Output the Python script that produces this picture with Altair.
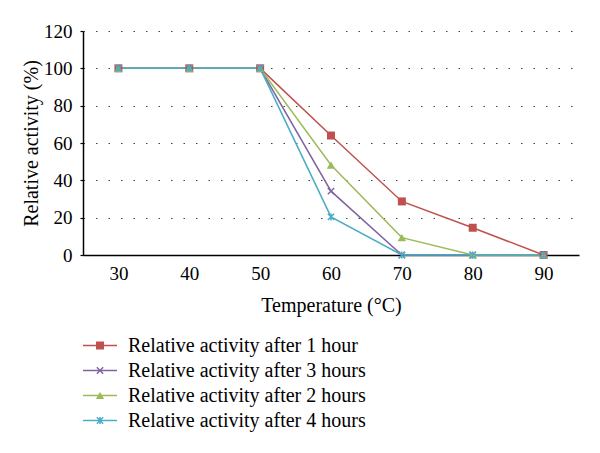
import altair as alt
import pandas as pd

temps = [30, 40, 50, 60, 70, 80, 90]
series_names = [
    "Relative activity after 1 hour",
    "Relative activity after 3 hours",
    "Relative activity after 2 hours",
    "Relative activity after 4 hours",
]
act_1h = [100, 100, 100, 64, 28.7, 14.6, 0]
act_3h = [100, 100, 100, 34.2, 0, 0, 0]
act_2h = [100, 100, 100, 48.2, 9.3, 0, 0]
act_4h = [100, 100, 100, 20.4, 0, 0, 0]
y_ticks = [0, 20, 40, 60, 80, 100, 120]

colors = ["#C0504D", "#8064A2", "#9BBB59", "#4BACC6"]
X_PATH = "M-1,-1L1,1M-1,1L1,-1"
STAR_PATH = "M-1,-1L1,1M-1,1L1,-1M0,-1.1L0,1.1"
marker_shapes = ["square", X_PATH, "triangle-up", STAR_PATH]
marker_filled = [True, False, True, False]
marker_sizes = [64, 40, 70, 40]

FONT = "Liberation Serif"

rows = []
for name, vals in zip(series_names, [act_1h, act_3h, act_2h, act_4h]):
    for t, v in zip(temps, vals):
        rows.append({"Temperature": str(t), "Activity": v, "Series": name})
df = pd.DataFrame(rows)

color_scale = alt.Scale(domain=series_names, range=colors)
color_enc = alt.Color("Series:N", scale=color_scale, legend=None)

x_enc = alt.X(
    "Temperature:O",
    sort=[str(t) for t in temps],
    scale=alt.Scale(type="point", padding=0.5),
    axis=alt.Axis(
        title="Temperature (°C)", labelAngle=0, ticks=False, grid=False,
        domainColor="black", domainWidth=1.5, labelPadding=9, titlePadding=12,
        labelFontSize=19, titleFontSize=20, titleFontWeight="normal",
        labelColor="black", titleColor="black", labelFont=FONT, titleFont=FONT,
    ),
)
y_enc = alt.Y(
    "Activity:Q",
    scale=alt.Scale(domain=[0, 120], nice=False),
    axis=alt.Axis(
        title="Relative activity (%)", values=y_ticks, tickSize=3, tickColor="black",
        tickWidth=1.2, domainColor="black", domainWidth=1.5, grid=True,
        gridDash=[1.5, 11], gridColor="#444444", gridWidth=1.2,
        labelPadding=8, titlePadding=2, labelFontSize=19, titleFontSize=20,
        titleFontWeight="normal", labelColor="black", titleColor="black",
        labelFont=FONT, titleFont=FONT,
    ),
)

lines = alt.Chart(df).mark_line(strokeWidth=1.5).encode(x=x_enc, y=y_enc, color=color_enc)

layers = [lines]
for name, shp, fil, sz in zip(series_names, marker_shapes, marker_filled, marker_sizes):
    layers.append(
        alt.Chart(df)
        .transform_filter(alt.datum.Series == name)
        .mark_point(shape=shp, filled=fil, size=sz, strokeWidth=1.5, opacity=1)
        .encode(x=x_enc, y=y_enc, color=color_enc)
    )

main = alt.layer(*layers).properties(width=496, height=224)

# legend panel
leg_df = pd.DataFrame({"Series": series_names})
y_leg = alt.Y("Series:N", sort=series_names, axis=None, scale=alt.Scale(type="point", padding=0.5))
leg_layers = [
    alt.Chart(leg_df).mark_rule(strokeWidth=1.5).encode(
        x=alt.value(0), x2=alt.value(34), y=y_leg, color=color_enc
    )
]
for name, shp, fil, sz in zip(series_names, marker_shapes, marker_filled, marker_sizes):
    leg_layers.append(
        alt.Chart(leg_df)
        .transform_filter(alt.datum.Series == name)
        .mark_point(shape=shp, filled=fil, size=sz, strokeWidth=1.5, opacity=1)
        .encode(x=alt.value(17), y=y_leg, color=color_enc)
    )
leg_layers.append(
    alt.Chart(leg_df).mark_text(align="left", baseline="middle", fontSize=20, font=FONT, color="black")
    .encode(x=alt.value(45), y=y_leg, text="Series:N")
)
legend = alt.layer(*leg_layers).properties(width=400, height=100)

chart = (
    alt.vconcat(main, legend, spacing=18)
    .properties(padding={"left": 13, "top": 14, "right": 5, "bottom": 5})
    .configure(font=FONT)
    .configure_view(stroke=None)
)

chart.save("out.html", embed_options={"renderer": "svg", "actions": False})
